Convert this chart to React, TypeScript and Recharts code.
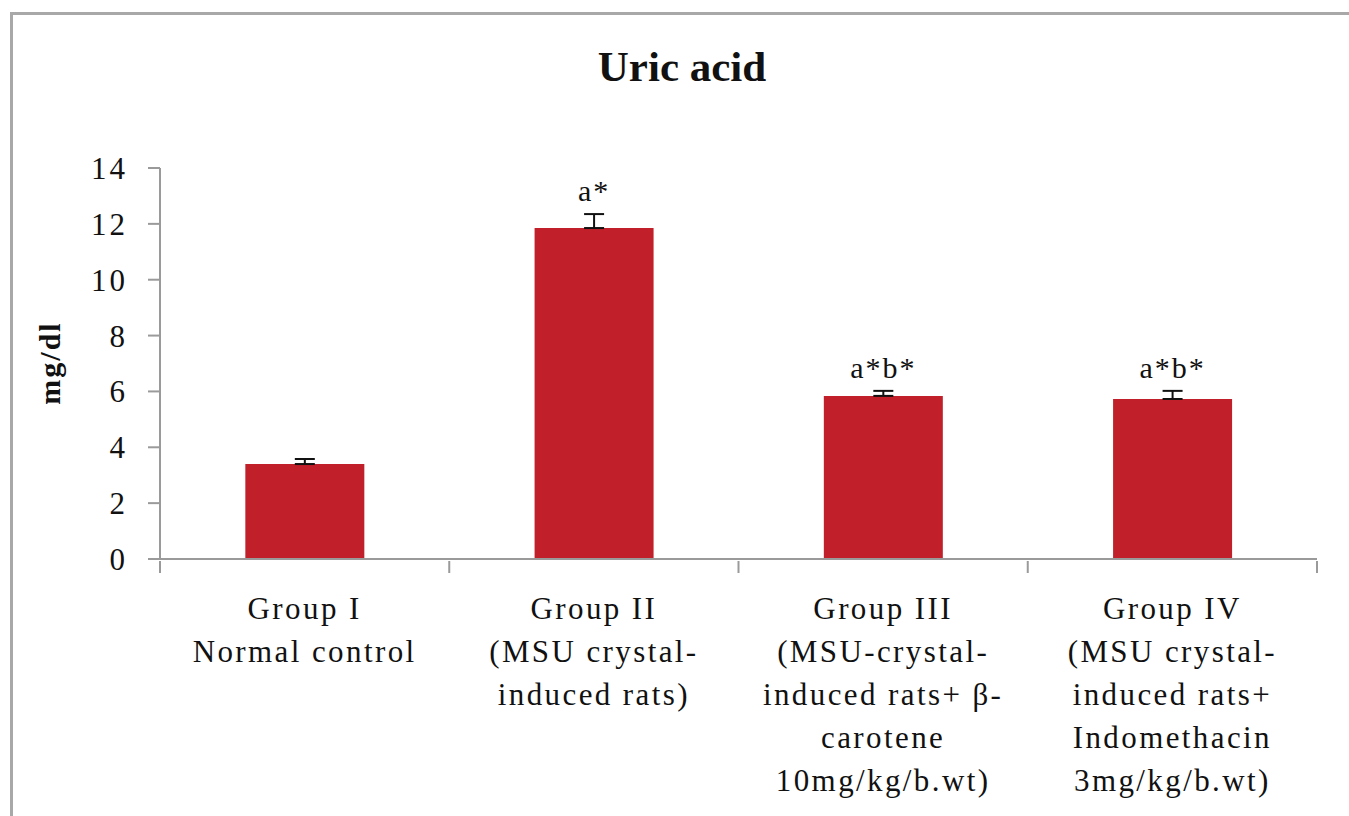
import { BarChart, Bar, XAxis, YAxis, ErrorBar, LabelList } from "recharts";

const groups = ["Group I", "Group II", "Group III", "Group IV"];
const groupSubLines = [
  ["Normal control"],
  ["(MSU  crystal-", "induced rats)"],
  ["(MSU-crystal-", "induced rats+ β-", "carotene", "10mg/kg/b.wt)"],
  ["(MSU  crystal-", "induced rats+", "Indomethacin", "3mg/kg/b.wt)"],
];
const uricAcid = [3.4, 11.85, 5.84, 5.73];
const uricErr = [0.18, 0.5, 0.18, 0.29];
const sigMarks = ["", "a*", "a*b*", "a*b*"];
const yTicks = [0, 2, 4, 6, 8, 10, 12, 14];

const data = groups.map((g, i) => ({
  group: g,
  value: uricAcid[i],
  err: [0, uricErr[i]],
}));

const FONT = "'Liberation Serif', 'Times New Roman', serif";
const AXIS = "#9a9a9a";

function GroupTick(props: any) {
  const { x, y, payload, index, width } = props;
  const band = (width || 1157) / groups.length;
  const lines = [payload.value, ...groupSubLines[index]];
  return (
    <g>
      <line x1={x - band / 2} y1={y - 14} x2={x - band / 2} y2={y - 2} stroke={AXIS} strokeWidth={2} />
      {index === groups.length - 1 && (
        <line x1={x + band / 2} y1={y - 14} x2={x + band / 2} y2={y - 2} stroke={AXIS} strokeWidth={2} />
      )}
      <text x={x} y={y} textAnchor="middle" fontFamily={FONT} fontSize={31} letterSpacing={2.4} fill="#111">
        {lines.map((l, i) => (
          <tspan key={i} x={x} dy={i === 0 ? 44 : 43}>
            {l}
          </tspan>
        ))}
      </text>
    </g>
  );
}

function SigLabel(props: any) {
  const { x, y, width, height, index } = props;
  const mark = sigMarks[index];
  if (!mark) return null;
  const pxPerUnit = height / uricAcid[index];
  const top = y - uricErr[index] * pxPerUnit;
  return (
    <text x={x + width / 2} y={top - 13} textAnchor="middle" fontFamily={FONT} fontSize={30} letterSpacing={2} fill="#111">
      {mark}
    </text>
  );
}

export default function App() {
  return (
    <div style={{ position: "absolute", left: 0, top: 0, width: 1349, height: 816, overflow: "hidden", background: "#fff" }}>
      <div
        style={{
          position: "absolute",
          left: 10,
          top: 12,
          width: 1400,
          height: 900,
          border: "3px solid #a8a8a8",
        }}
      />
      <div
        style={{
          position: "absolute",
          left: 0,
          top: 42,
          width: 1364,
          textAlign: "center",
          fontFamily: FONT,
          fontWeight: "bold",
          fontSize: 43,
          lineHeight: "50px",
          color: "#111",
        }}
      >
        Uric acid
      </div>
      <div
        style={{
          position: "absolute",
          left: 50,
          top: 363,
          transform: "translate(-50%, -50%) rotate(-90deg)",
          fontFamily: FONT,
          fontWeight: "bold",
          fontSize: 30,
          letterSpacing: 2,
          color: "#111",
          whiteSpace: "nowrap",
        }}
      >
        mg/dl
      </div>
      <div style={{ position: "absolute", left: 0, top: 0 }}>
        <BarChart
          width={1349}
          height={816}
          data={data}
          margin={{ top: 168, right: 32, bottom: 0, left: 0 }}
          barCategoryGap="29.5%"
        >
          <XAxis
            dataKey="group"
            axisLine={{ stroke: AXIS, strokeWidth: 2 }}
            tickLine={false}
            tick={<GroupTick />}
            interval={0}
            tickSize={14}
            height={257}
          />
          <YAxis
            domain={[0, 14]}
            ticks={yTicks}
            interval={0}
            width={160}
            axisLine={{ stroke: AXIS, strokeWidth: 2 }}
            tickLine={{ stroke: AXIS, strokeWidth: 2 }}
            tickSize={12}
            tickMargin={20}
            tick={{ fontFamily: FONT, fontSize: 31, fill: "#111", letterSpacing: 3 }}
          />
          <Bar dataKey="value" fill="#c1202a" isAnimationActive={false}>
            <ErrorBar dataKey="err" width={10} stroke="#111" strokeWidth={2} direction="y" />
            <LabelList dataKey="value" content={<SigLabel />} />
          </Bar>
        </BarChart>
      </div>
    </div>
  );
}
